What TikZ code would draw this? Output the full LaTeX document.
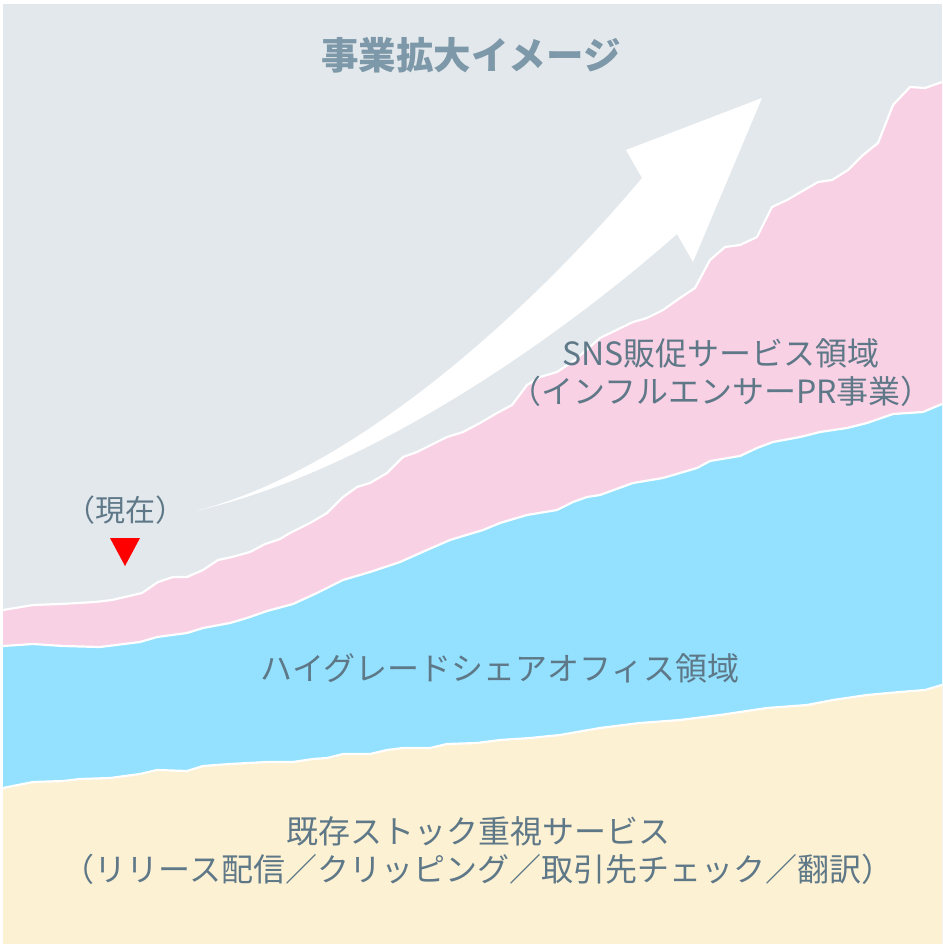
\documentclass[tikz,border=0pt]{standalone}
\usepackage{fontspec}
\setmainfont{Noto Sans CJK JP}
\definecolor{bggray}{HTML}{E3E8EC}
\definecolor{pinkarea}{HTML}{F9D1E4}
\definecolor{bluearea}{HTML}{93E1FE}
\definecolor{yellowarea}{HTML}{FDF1D3}
\definecolor{labeltext}{HTML}{5E7888}
\definecolor{titletext}{HTML}{7D98A8}
\tikzset{
  lbl/.style={font=\fontsize{32}{38}\selectfont, text=labeltext, inner sep=0pt, align=center},
  sep/.style={draw=white, line width=2.2pt, line join=round},
}
\begin{document}
\begin{tikzpicture}[x=1pt,y=-1pt]
\useasboundingbox (0,0) rectangle (942,944);
\fill[white] (0,0) rectangle (942,944);
\fill[bggray] (3,4) rectangle (942,944);
% pink area
\fill[pinkarea] (3,610) -- (33,605) -- (60,604) -- (95,602) -- (112,600) -- (142,593) -- (158,582) -- (173,577) -- (187,577) -- (203,570) -- (218,560) -- (232,557) -- (250,552) -- (265,544) -- (280,539) -- (290,533) -- (310,523) -- (327,513) -- (343,497) -- (357,487) -- (370,483) -- (387,473) -- (403,457) -- (417,452) -- (447,437) -- (463,432) -- (480,423) -- (497,413) -- (512,405) -- (527,385) -- (540,377) -- (557,372) -- (575,360) -- (600,338) -- (633,322) -- (647,318) -- (663,310) -- (680,298) -- (695,288) -- (710,260) -- (725,247) -- (740,245) -- (757,237) -- (772,207) -- (787,200) -- (818,182) -- (832,180) -- (848,170) -- (863,155) -- (878,143) -- (893,105) -- (910,87) -- (925,88) -- (942,82) -- (942,944) -- (3,944) -- cycle;
% blue area
\fill[bluearea] (3,646) -- (33,644) -- (63,646) -- (100,647) -- (140,642) -- (157,637) -- (187,633) -- (203,628) -- (230,623) -- (247,618) -- (267,611) -- (293,604) -- (317,593) -- (343,580) -- (370,572) -- (400,562) -- (427,550) -- (450,540) -- (483,530) -- (500,523) -- (527,515) -- (557,510) -- (573,502) -- (587,497) -- (600,495) -- (633,483) -- (663,478) -- (697,468) -- (710,461) -- (740,456) -- (757,448) -- (773,442) -- (800,437) -- (820,432) -- (847,428) -- (867,423) -- (893,414) -- (923,412) -- (942,404) -- (942,944) -- (3,944) -- cycle;
% yellow area
\fill[yellowarea] (3,788) -- (33,782) -- (63,781) -- (80,779) -- (110,778) -- (140,774) -- (157,770) -- (187,771) -- (203,766) -- (230,764) -- (267,762) -- (293,762) -- (313,759) -- (327,758) -- (343,754) -- (370,754) -- (387,750) -- (403,748) -- (430,748) -- (447,744) -- (477,743) -- (500,740) -- (530,738) -- (560,735) -- (600,728) -- (640,723) -- (680,720) -- (720,715) -- (767,708) -- (807,705) -- (833,700) -- (867,695) -- (900,692) -- (925,690) -- (942,685) -- (942,944) -- (3,944) -- cycle;
% white separators
\draw[sep] (3,610) -- (33,605) -- (60,604) -- (95,602) -- (112,600) -- (142,593) -- (158,582) -- (173,577) -- (187,577) -- (203,570) -- (218,560) -- (232,557) -- (250,552) -- (265,544) -- (280,539) -- (290,533) -- (310,523) -- (327,513) -- (343,497) -- (357,487) -- (370,483) -- (387,473) -- (403,457) -- (417,452) -- (447,437) -- (463,432) -- (480,423) -- (497,413) -- (512,405) -- (527,385) -- (540,377) -- (557,372) -- (575,360) -- (600,338) -- (633,322) -- (647,318) -- (663,310) -- (680,298) -- (695,288) -- (710,260) -- (725,247) -- (740,245) -- (757,237) -- (772,207) -- (787,200) -- (818,182) -- (832,180) -- (848,170) -- (863,155) -- (878,143) -- (893,105) -- (910,87) -- (925,88) -- (942,82);
\draw[sep] (3,646) -- (33,644) -- (63,646) -- (100,647) -- (140,642) -- (157,637) -- (187,633) -- (203,628) -- (230,623) -- (247,618) -- (267,611) -- (293,604) -- (317,593) -- (343,580) -- (370,572) -- (400,562) -- (427,550) -- (450,540) -- (483,530) -- (500,523) -- (527,515) -- (557,510) -- (573,502) -- (587,497) -- (600,495) -- (633,483) -- (663,478) -- (697,468) -- (710,461) -- (740,456) -- (757,448) -- (773,442) -- (800,437) -- (820,432) -- (847,428) -- (867,423) -- (893,414) -- (923,412) -- (942,404);
\draw[sep] (3,788) -- (33,782) -- (63,781) -- (80,779) -- (110,778) -- (140,774) -- (157,770) -- (187,771) -- (203,766) -- (230,764) -- (267,762) -- (293,762) -- (313,759) -- (327,758) -- (343,754) -- (370,754) -- (387,750) -- (403,748) -- (430,748) -- (447,744) -- (477,743) -- (500,740) -- (530,738) -- (560,735) -- (600,728) -- (640,723) -- (680,720) -- (720,715) -- (767,708) -- (807,705) -- (833,700) -- (867,695) -- (900,692) -- (925,690) -- (942,685);
% growth arrow
\fill[white] (195,511) .. controls (360,470) and (540,300) .. (642,178) -- (626,150) -- (762,98) -- (693,262) -- (677,234) .. controls (580,320) and (380,470) .. (195,511) -- cycle;
% current marker
\fill[red] (110,538) -- (140,538) -- (125,566) -- cycle;
% texts
\node[font=\fontsize{37.5}{44}\selectfont\bfseries, text=titletext, inner sep=0pt] (title) at (471,55) {事業拡大イメージ};
\node[lbl, font=\fontsize{30}{36}\selectfont] (now) at (125,510) {（現在）};
\node[lbl] (sns) at (721,373) {SNS販促サービス領域\\（インフルエンサーPR事業）};
\node[lbl] (office) at (500,668) {ハイグレードシェアオフィス領域};
\node[lbl] (stock) at (478,851) {既存ストック重視サービス\\（リリース配信／クリッピング／取引先チェック／翻訳）};
\end{tikzpicture}
\end{document}
